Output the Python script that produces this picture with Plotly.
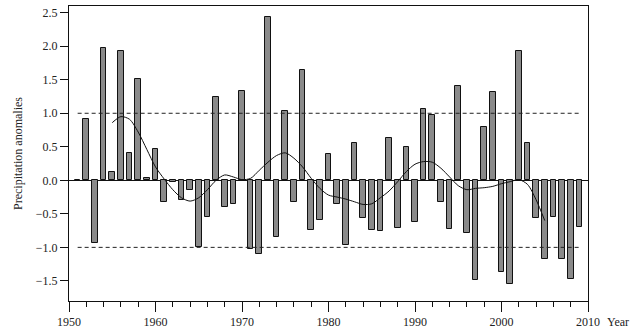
import plotly.graph_objects as go

years = list(range(1951, 2010))
anomalies = [0.01, 0.92, -0.94, 1.97, 0.13, 1.93, 0.41, 1.51, 0.04, 0.46,
             -0.33, -0.03, -0.29, -0.15, -0.99, -0.55, 1.25, -0.40, -0.36, 1.33,
             -1.03, -1.10, 2.43, -0.84, 1.03, -0.32, 1.64, -0.74, -0.59, 0.40,
             -0.36, -0.97, 0.55, -0.56, -0.74, -0.75, 0.63, -0.71, 0.50, -0.62,
             1.07, 0.97, -0.33, -0.73, 1.41, -0.78, -1.48, 0.79, 1.32, -1.36,
             -1.54, 1.93, 0.55, -0.56, -1.17, -0.54, -1.17, -1.47, -0.70]

smooth_years = list(range(1955, 2006))
smooth_vals = [0.86, 0.95, 0.91, 0.72, 0.46, 0.20, 0.02, -0.14, -0.26, -0.31,
               -0.26, -0.14, 0.00, 0.08, 0.05, 0.01, 0.03, 0.15, 0.27, 0.37,
               0.41, 0.33, 0.20, 0.03, -0.12, -0.22, -0.25, -0.28, -0.32, -0.36,
               -0.35, -0.26, -0.16, -0.02, 0.13, 0.24, 0.28, 0.27, 0.18, 0.05,
               -0.08, -0.14, -0.12, -0.11, -0.09, -0.05, -0.02, 0.01, -0.06, -0.29,
               -0.60]

thresh_years = [1951, 2009]
upper = [1.0, 1.0]
lower = [-1.0, -1.0]

y_ticks = [-1.5, -1.0, -0.5, 0.0, 0.5, 1.0, 1.5, 2.0, 2.5]
x_ticks = [1950, 1960, 1970, 1980, 1990, 2000, 2010]

font_family = "Liberation Serif"

fig = go.Figure()
fig.add_trace(go.Bar(x=years, y=anomalies, width=0.65,
                     marker=dict(color="#8a8a8a", line=dict(color="#111", width=1)),
                     showlegend=False))
for yy in (upper, lower):
    fig.add_trace(go.Scatter(x=thresh_years, y=yy, mode="lines",
                             line=dict(color="#222", width=1, dash="4px,3px"),
                             showlegend=False))
fig.add_trace(go.Scatter(x=smooth_years, y=smooth_vals, mode="lines",
                         line=dict(color="#111", width=1, shape="spline", smoothing=0.8),
                         showlegend=False))

fig.update_layout(
    width=639, height=334,
    margin=dict(l=69, r=51, t=5, b=28),
    paper_bgcolor="white", plot_bgcolor="white",
    font=dict(family=font_family, size=12, color="#222"),
    bargap=0,
    annotations=[dict(text="Year", x=1.0, y=0, xref="paper", yref="paper",
                      xanchor="left", yanchor="top", xshift=17, yshift=-12,
                      showarrow=False, font=dict(family=font_family, size=12, color="#222"))],
)
fig.update_xaxes(range=[1950, 2010], tickvals=x_ticks, ticks="outside", ticklen=10,
                 tickcolor="#111", showline=True, linecolor="#111", linewidth=1,
                 mirror=True, showgrid=False, zeroline=False,
                 minor=dict(dtick=2, tick0=1950, ticks="outside", ticklen=5, tickcolor="#111"))
fig.update_yaxes(range=[-1.8, 2.6], tickvals=y_ticks, tickformat=".1f", ticks="outside",
                 ticklen=8, tickcolor="#111", showline=True, linecolor="#111", linewidth=1,
                 mirror=True, showgrid=False, zeroline=True, zerolinecolor="#111",
                 zerolinewidth=1,
                 title=dict(text="Precipitation anomalies", standoff=10,
                            font=dict(family=font_family, size=12, color="#222")))

fig.write_html("out.html", config={"displayModeBar": False},
               post_script="document.body.style.margin='0';document.body.style.overflow='hidden';")
